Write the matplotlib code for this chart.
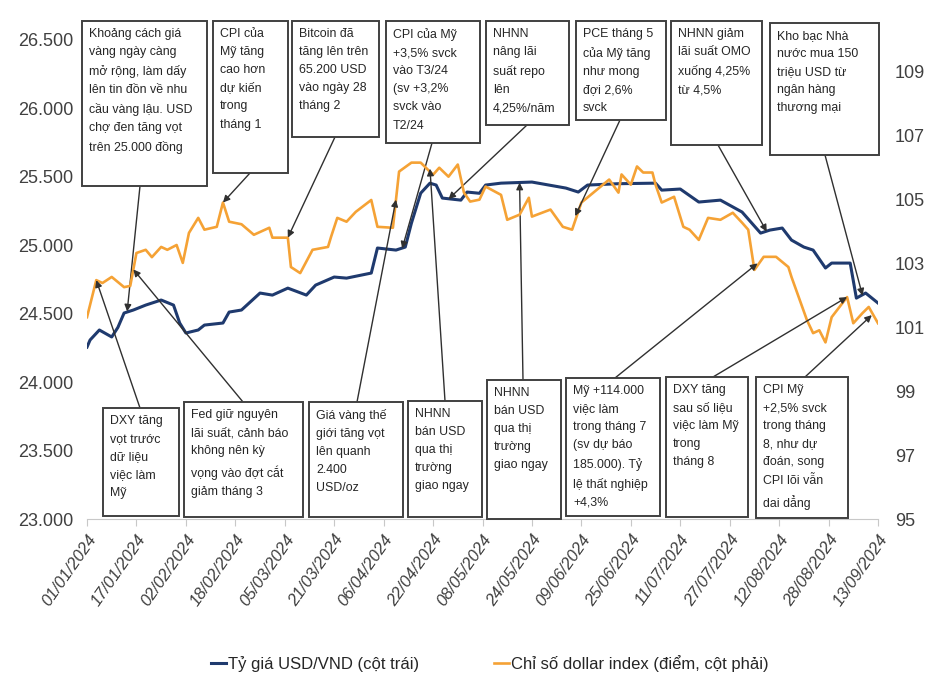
import matplotlib
matplotlib.use("Agg")
import matplotlib.pyplot as plt
import matplotlib.dates as mdates
from matplotlib.patches import Rectangle
from matplotlib.ticker import FuncFormatter, FixedLocator
import pandas as pd

plt.rcParams['font.family'] = ['Liberation Sans', 'DejaVu Sans']

# Tỷ giá USD/VND (cột trái)
usd_dates = ["2024-01-01", "2024-01-02", "2024-01-05", "2024-01-09", "2024-01-11", "2024-01-13",
             "2024-01-16", "2024-01-20", "2024-01-25", "2024-01-29", "2024-01-31", "2024-02-02",
             "2024-02-06", "2024-02-08", "2024-02-14", "2024-02-16", "2024-02-20", "2024-02-26",
             "2024-03-01", "2024-03-06", "2024-03-12", "2024-03-15", "2024-03-21", "2024-03-25",
             "2024-04-02", "2024-04-04", "2024-04-10", "2024-04-13", "2024-04-15", "2024-04-18",
             "2024-04-21", "2024-04-23", "2024-04-25", "2024-05-01", "2024-05-03", "2024-05-07",
             "2024-05-09", "2024-05-14", "2024-05-24", "2024-06-04", "2024-06-08", "2024-06-11",
             "2024-06-21", "2024-07-03", "2024-07-05", "2024-07-11", "2024-07-17", "2024-07-24",
             "2024-07-31", "2024-08-06", "2024-08-09", "2024-08-13", "2024-08-16", "2024-08-20",
             "2024-08-23", "2024-08-27", "2024-08-29", "2024-09-04", "2024-09-06", "2024-09-09",
             "2024-09-13"]
usd_vnd = [24256, 24308, 24381, 24330, 24400, 24505, 24527, 24563, 24600, 24563, 24432, 24359,
           24381, 24417, 24432, 24512, 24527, 24651, 24636, 24687, 24636, 24709, 24768, 24760,
           24797, 24980, 24965, 24987, 25162, 25381, 25454, 25440, 25345, 25330, 25389, 25380,
           25440, 25454, 25462, 25418, 25389, 25440, 25450, 25454, 25403, 25411, 25316, 25330,
           25243, 25089, 25111, 25126, 25038, 24987, 24965, 24834, 24870, 24870, 24614, 24651,
           24578]

# Chỉ số dollar index (cột phải)
dxy_dates = ["2024-01-01", "2024-01-04", "2024-01-06", "2024-01-09", "2024-01-13", "2024-01-15",
             "2024-01-17", "2024-01-20", "2024-01-22", "2024-01-25", "2024-01-27", "2024-01-30",
             "2024-02-01", "2024-02-03", "2024-02-06", "2024-02-08", "2024-02-12", "2024-02-14",
             "2024-02-16", "2024-02-20", "2024-02-24", "2024-02-29", "2024-03-01", "2024-03-06",
             "2024-03-07", "2024-03-10", "2024-03-14", "2024-03-19", "2024-03-20", "2024-03-22",
             "2024-03-25", "2024-03-28", "2024-04-02", "2024-04-04", "2024-04-09", "2024-04-11",
             "2024-04-15", "2024-04-18", "2024-04-22", "2024-04-24", "2024-04-27", "2024-04-30",
             "2024-05-02", "2024-05-04", "2024-05-07", "2024-05-09", "2024-05-14", "2024-05-16",
             "2024-05-20", "2024-05-23", "2024-05-24", "2024-05-30", "2024-06-03", "2024-06-06",
             "2024-06-09", "2024-06-14", "2024-06-18", "2024-06-21", "2024-06-22", "2024-06-25",
             "2024-06-27", "2024-06-29", "2024-07-02", "2024-07-03", "2024-07-05", "2024-07-09",
             "2024-07-12", "2024-07-14", "2024-07-17", "2024-07-20", "2024-07-24", "2024-07-28",
             "2024-07-31", "2024-08-02", "2024-08-04", "2024-08-07", "2024-08-11", "2024-08-15",
             "2024-08-16", "2024-08-21", "2024-08-23", "2024-08-25", "2024-08-27", "2024-08-29",
             "2024-09-03", "2024-09-05", "2024-09-08", "2024-09-10", "2024-09-13"]
dxy = [101.32, 102.48, 102.39, 102.58, 102.26, 102.30, 103.33, 103.43, 103.20, 103.52, 103.43, 103.58,
       103.02, 103.96, 104.43, 104.06, 104.15, 104.91, 104.31, 104.23, 103.90, 104.12, 103.81, 103.81,
       102.89, 102.70, 103.43, 103.52, 103.84, 104.43, 104.31, 104.62, 104.99, 104.15, 104.12, 105.88,
       106.16, 106.16, 105.78, 106.00, 105.72, 106.10, 105.22, 104.94, 105.00, 105.41, 105.15, 104.37,
       104.53, 105.06, 104.47, 104.69, 104.15, 104.06, 104.91, 105.31, 105.63, 105.22, 105.79, 105.47,
       106.04, 105.85, 105.85, 105.47, 104.91, 105.09, 104.15, 104.06, 103.74, 104.43, 104.37, 104.59,
       104.28, 104.06, 102.80, 103.21, 103.21, 102.89, 102.58, 101.23, 100.82, 100.91, 100.53, 101.32,
       101.95, 101.13, 101.45, 101.64, 101.13]

# events: (text, date, series)
events = [
    ("Khoảng cách giá\nvàng ngày càng\nmở rộng, làm dấy\nlên tin đồn về nhu\ncầu vàng lậu. USD\nchợ đen tăng vọt\ntrên 25.000 đồng", "2024-01-14", "usd"),
    ("CPI của\nMỹ tăng\ncao hơn\ndự kiến\ntrong\ntháng 1", "2024-02-14", "dxy"),
    ("Bitcoin đã\ntăng lên trên\n65.200 USD\nvào ngày 28\ntháng 2", "2024-03-06", "dxy"),
    ("CPI của Mỹ\n+3,5% svck\nvào T3/24\n(sv +3,2%\nsvck vào\nT2/24", "2024-04-12", "usd"),
    ("NHNN\nnâng lãi\nsuất repo\nlên\n4,25%/năm", "2024-04-27", "usd"),
    ("PCE tháng 5\ncủa Mỹ tăng\nnhư mong\nđợi 2,6%\nsvck", "2024-06-07", "dxy"),
    ("NHNN giảm\nlãi suất OMO\nxuống 4,25%\ntừ 4,5%", "2024-08-08", "usd"),
    ("Kho bạc Nhà\nnước mua 150\ntriệu USD từ\nngân hàng\nthương mại", "2024-09-08", "usd"),
    ("DXY tăng\nvọt trước\ndữ liệu\nviệc làm\nMỹ", "2024-01-04", "dxy"),
    ("Fed giữ nguyên\nlãi suất, cảnh báo\nkhông nên kỳ\nvọng vào đợt cắt\ngiảm tháng 3", "2024-01-16", "dxy"),
    ("Giá vàng thế\ngiới tăng vọt\nlên quanh\n2.400\nUSD/oz", "2024-04-10", "dxy"),
    ("NHNN\nbán USD\nqua thị\ntrường\ngiao ngay", "2024-04-21", "dxy"),
    ("NHNN\nbán USD\nqua thị\ntrường\ngiao ngay", "2024-05-20", "usd"),
    ("Mỹ +114.000\nviệc làm\ntrong tháng 7\n(sv dự báo\n185.000). Tỷ\nlệ thất nghiệp\n+4,3%", "2024-08-05", "dxy"),
    ("DXY tăng\nsau số liệu\nviệc làm Mỹ\ntrong\ntháng 8", "2024-09-03", "dxy"),
    ("CPI Mỹ\n+2,5% svck\ntrong tháng\n8, như dự\nđoán, song\nCPI lõi vẫn\ndai dẳng", "2024-09-11", "dxy"),
]

# box layout in image pixels: (x0, y0, x1, y1) and arrow start point
boxes = [
    (82, 21, 207, 186, 140, 186),
    (213, 21, 288, 173, 250, 173),
    (292, 21, 379, 137, 335, 137),
    (386, 21, 480, 143, 432, 143),
    (486, 21, 569, 125, 527, 125),
    (576, 21, 666, 120, 620, 120),
    (671, 21, 762, 145, 718, 145),
    (770, 23, 879, 155, 825, 155),
    (103, 408, 179, 516, 140, 408),
    (184, 402, 303, 517, 243, 402),
    (309, 402, 403, 517, 357, 402),
    (408, 401, 482, 517, 445, 401),
    (487, 380, 561, 519, 523, 380),
    (566, 378, 660, 516, 615, 378),
    (666, 377, 748, 517, 713, 377),
    (756, 377, 848, 518, 805, 377),
]

W, H = 942, 688
def fx(x):
    return x / W
def fy(y):
    return 1 - y / H

usd_s = pd.Series(usd_vnd, index=pd.to_datetime(usd_dates))
dxy_s = pd.Series(dxy, index=pd.to_datetime(dxy_dates))

fig = plt.figure(figsize=(W / 100, H / 100), dpi=100)
ax = fig.add_axes([fx(87), fy(519), (878 - 87) / W, (519 - 40) / H])
ax2 = ax.twinx()

blue = '#1f3a6e'
orange = '#f5a235'
l1, = ax.plot(usd_s.index, usd_s.values, color=blue, lw=2.2, label='Tỷ giá USD/VND (cột trái)')
l2, = ax2.plot(dxy_s.index, dxy_s.values, color=orange, lw=1.9, label='Chỉ số dollar index (điểm, cột phải)')

start, end = pd.Timestamp('2024-01-01'), pd.Timestamp('2024-09-13')
ax.set_xlim(start, end)
ax.set_ylim(23000, 26500)
ax2.set_ylim(95, 110)
ax.set_yticks(range(23000, 27000, 500))
ax2.set_yticks(range(95, 111, 2))
ax.yaxis.set_major_formatter(FuncFormatter(lambda v, p: f"{int(v):,}".replace(",", ".")))

xt = pd.date_range(start, end, freq='16D')
ax.xaxis.set_major_locator(FixedLocator(mdates.date2num(xt)))
ax.xaxis.set_major_formatter(mdates.DateFormatter('%d/%m/%Y'))
for lab in ax.get_xticklabels():
    lab.set_rotation(55)
    lab.set_ha('right')
    lab.set_rotation_mode('anchor')
    lab.set_fontstyle('italic')

for a in (ax, ax2):
    for s in ('top', 'left', 'right'):
        a.spines[s].set_visible(False)
ax2.spines['bottom'].set_visible(False)
ax.spines['bottom'].set_color('#c8c8c8')
ax.tick_params(axis='x', colors='#c8c8c8', length=5, labelcolor='#404040', labelsize=12, pad=4)
ax.tick_params(axis='y', length=0, labelcolor='#404040', labelsize=13, pad=10)
ax2.tick_params(axis='y', length=0, labelcolor='#404040', labelsize=13, pad=12)

for (txt, d, ser), (x0, y0, x1, y1, sx, sy) in zip(events, boxes):
    rect = Rectangle((fx(x0), fy(y1)), (x1 - x0) / W, (y1 - y0) / H, transform=fig.transFigure,
                     facecolor='white', edgecolor='#404040', lw=1.4, zorder=5)
    fig.add_artist(rect)
    fig.text(fx(x0 + 7), fy(y0 + 7), txt, ha='left', va='top', fontsize=8.9,
             linespacing=1.68, color='#262626', zorder=6)
    dt = pd.Timestamp(d)
    if ser == 'usd':
        a, s = ax, usd_s
    else:
        a, s = ax2, dxy_s
    xs = mdates.date2num(s.index)
    xd = mdates.date2num(dt)
    yv = float(pd.Series(s.values, index=xs).reindex(sorted(set(xs) | {xd})).interpolate().loc[xd])
    a.annotate('', xy=(xd, yv), xycoords='data',
               xytext=(fx(sx), fy(sy)), textcoords='figure fraction',
               arrowprops=dict(arrowstyle='-|>', color='#303030', lw=1.0,
                               mutation_scale=10, shrinkA=0, shrinkB=0),
               annotation_clip=False, zorder=7)

fig.legend(handles=[l1, l2], loc='center', bbox_to_anchor=(0.52, 0.036), ncol=2,
           frameon=False, fontsize=12, handlelength=0.9, handletextpad=0.1,
           columnspacing=4.5, labelcolor='#262626')

fig.savefig('out.png', dpi=100)
